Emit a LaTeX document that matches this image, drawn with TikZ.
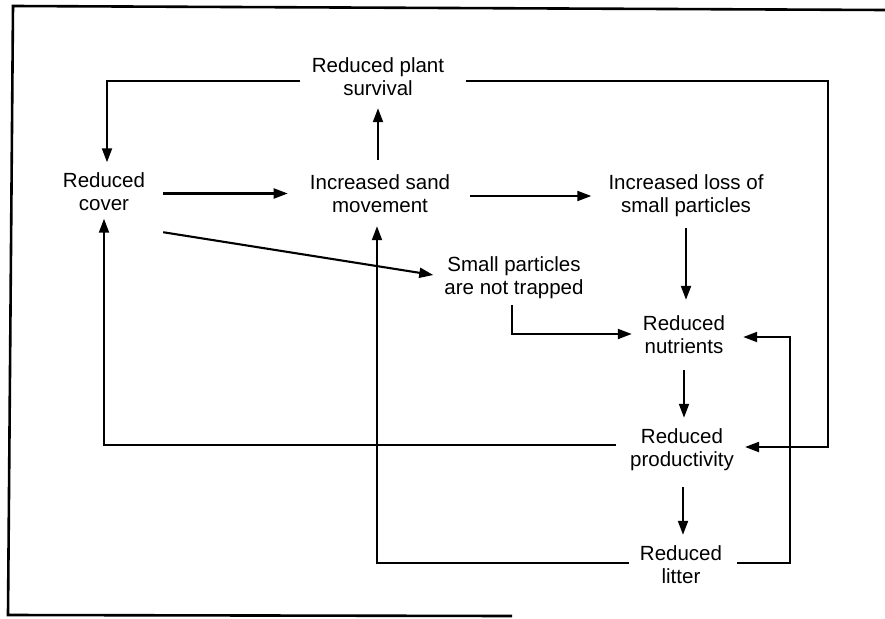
\documentclass[tikz,border=0pt]{standalone}
\usepackage{fontspec}
\setmainfont{Liberation Sans}
\usetikzlibrary{arrows.meta,calc}
\begin{document}
\begin{tikzpicture}[x=1pt,y=-1pt,
  lbl/.style={align=center,inner sep=0pt,font=\fontsize{20.5}{23}\selectfont},
  arr/.style={line width=2.1pt,-{Triangle[length=14pt,width=10pt]}},
  frame/.style={line width=2.6pt}]
\useasboundingbox (0,0) rectangle (885,618);
% frame (left, top, bottom)
\coordinate (f1) at (885,10);
\coordinate (f2) at (13,6);
\coordinate (f3) at (8,615);
\coordinate (f4) at (512,616);
\draw[frame] (f1) -- (f2) -- (f3) -- (f4);
% nodes
\node[lbl] (plant) at (378,77) {Reduced plant\\survival};
\node[lbl] (cover) at (104,191.5) {Reduced\\cover};
\node[lbl] (sand) at (380,194) {Increased sand\\movement};
\node[lbl] (loss) at (686,196) {Increased loss of\\small particles};
\node[lbl] (notr) at (514,277.5) {Small particles\\are not trapped};
\node[lbl] (nutr) at (684,335) {Reduced\\nutrients};
\node[lbl] (prod) at (682,450) {Reduced\\productivity};
\node[lbl] (litter) at (681,565) {Reduced\\litter};
% connectors
\draw[arr] ($(cover.east)+(18,2)$) -- ($(cover.east -| sand.west)+(-22,2)$);
\draw[arr] ($(sand.east)+(20,2)$) -- ($(sand.east -| loss.west)+(-17,2)$);
\draw[arr] ($(cover.south east)+(18,21.5)$) -- ($(notr.west)+(-11,-2.5)$);
\draw[arr] ($(plant.south |- sand.north)+(0,-15)$) -- ($(plant.south)+(0,12)$);
\draw[arr] ($(plant.west)+(-12,4)$) -| ($(cover.north)+(3,-10)$);
\draw[arr] ($(plant.east)+(22,4)$) -- ++(362,0) |- ($(prod.east)+(11,-3)$);
\draw[arr] ($(nutr.north |- loss.south)+(2,11)$) -- ($(nutr.north)+(2,-16)$);
\draw[arr] ($(notr.south)+(-2,6)$) |- ($(nutr.west)+(-11,-1)$);
\draw[arr] ($(nutr.south)+(0,16)$) -- ($(nutr.south |- prod.north)+(0,-11)$);
\draw[arr] ($(prod.south)+(1,16)$) -- ($(prod.south |- litter.north)+(1,-11)$);
\draw[arr] ($(prod.west)+(-14,-5)$) -| ($(cover.south)+(0,8)$);
\draw[arr] ($(litter.west)+(-11,-2)$) -| ($(sand.south)+(-3,13)$);
\draw[arr] ($(litter.east)+(15,-2)$) -- ++(53,0) |- ($(nutr.east)+(18,2)$);
\end{tikzpicture}
\end{document}
